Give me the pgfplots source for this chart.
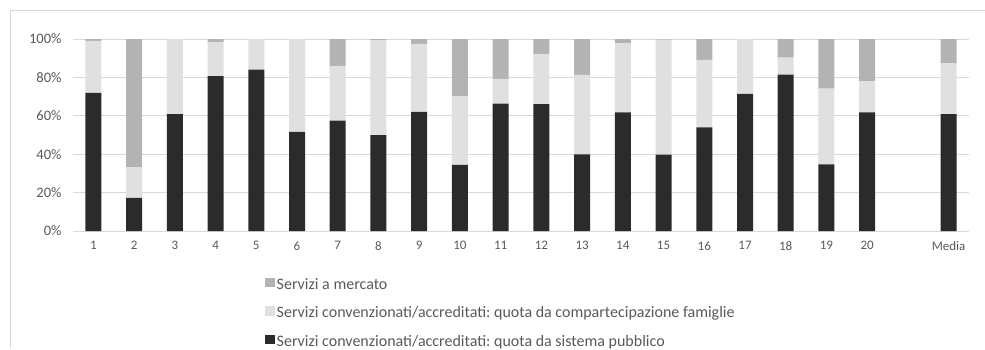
\documentclass[border=0pt]{standalone}
\usepackage{pgfplots}
\usepackage{pgfplotstable}
\pgfplotsset{compat=1.18}
\usepackage{fontspec}
\setmainfont{Carlito}
\frenchspacing

\definecolor{pubblico}{HTML}{2B2B2B}
\definecolor{famiglie}{HTML}{E0E0E0}
\definecolor{mercato}{HTML}{B3B3B3}
\definecolor{gridgray}{HTML}{D9D9D9}
\definecolor{labelgray}{HTML}{595959}

% quote percentuali per ambito (pos. 21 = Media)
\pgfplotstableread{
x  pub   fam   merc
0  72.0  27.0  1.0
1  17.2  16.1  66.7
2  60.9  39.1  0.0
3  80.7  17.6  1.7
4  84.0  16.0  0.0
5  51.6  48.4  0.0
6  57.5  28.5  14.0
7  50.0  49.3  0.7
8  62.0  35.4  2.6
9  34.4  35.7  29.9
10 66.3  12.9  20.8
11 66.1  26.1  7.8
12 39.9  41.4  18.7
13 61.8  35.9  2.3
14 39.8  59.9  0.3
15 54.0  35.1  10.9
16 71.4  28.6  0.0
17 81.4  8.9   9.7
18 34.7  39.4  25.9
19 61.8  16.3  21.9
21 60.9  26.6  12.5
}\datatable

\begin{document}
\begin{tikzpicture}
\useasboundingbox (0pt,0pt) rectangle (985pt,-349pt);
\draw[gridgray, line width=1pt] (10.5pt,-349pt) -- (10.5pt,-10.5pt) -- (985pt,-10.5pt);
\begin{axis}[
  at={(73pt,-231pt)}, anchor=south west,
  scale only axis, width=896pt, height=192pt,
  ybar stacked, bar width=16pt,
  xmin=-0.5, xmax=21.5, ymin=0, ymax=100,
  xtick={0,...,19,21},
  xticklabels={1,2,3,4,5,6,7,8,9,10,11,12,13,14,15,16,17,18,19,20,Media},
  ytick={0,20,...,100},
  yticklabel={\pgfmathprintnumber{\tick}\%},
  /pgf/number format/assume math mode=true,
  axis line style={draw=none},
  major tick length=0pt,
  ymajorgrids, grid style={gridgray, line width=1pt},
  xticklabel style={font=\fontsize{13}{15}\selectfont, text=labelgray, yshift=-7pt},
  yticklabel style={font=\fontsize{14.5}{16}\selectfont, text=labelgray, xshift=-8pt},
  clip=false,
  legend cell align=left,
  reverse legend,
  legend image code/.code={\fill[#1,draw=none] (0pt,-2.4pt) rectangle (10pt,7pt);},
  legend style={at={(axis cs:4.207,-24.1)}, anchor=north west, draw=none, fill=none,
    font=\fontsize{16}{18}\selectfont, text=labelgray, inner sep=0pt, outer sep=0pt,
    row sep=13.5pt,
    nodes={inner xsep=2pt, inner ysep=0pt, text height=12pt, text depth=3pt}},
]
\addplot[fill=pubblico, draw=none] table[x=x, y=pub] {\datatable};
\addlegendentry{Servizi convenzionati/accreditati: quota da sistema pubblico}
\addplot[fill=famiglie, draw=none] table[x=x, y=fam] {\datatable};
\addlegendentry{Servizi convenzionati/accreditati: quota da compartecipazione famiglie}
\addplot[fill=mercato, draw=none] table[x=x, y=merc] {\datatable};
\addlegendentry{Servizi a mercato}
\end{axis}
\end{tikzpicture}
\end{document}
